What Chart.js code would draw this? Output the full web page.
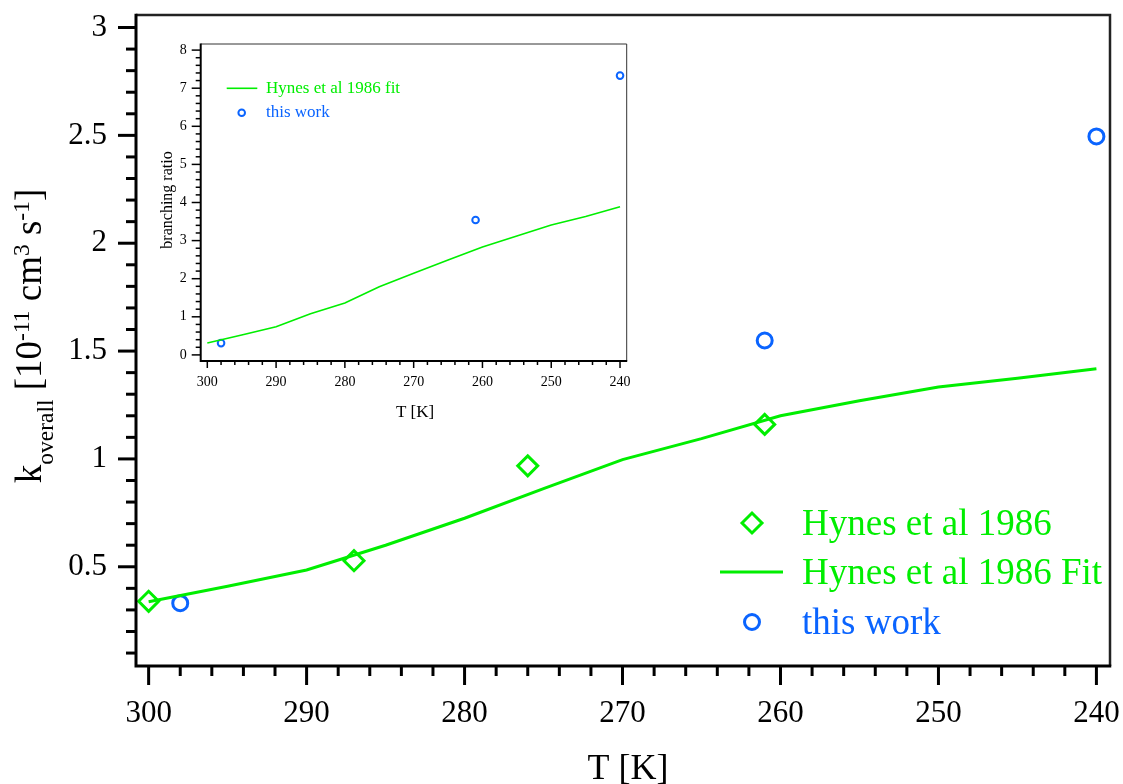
<!DOCTYPE html>
<html><head><meta charset="utf-8">
<script src="https://cdn.jsdelivr.net/npm/chart.js@4.4.1/dist/chart.umd.min.js"></script>
<style>
html,body{margin:0;padding:0;background:#fff;}
#wrap{position:relative;width:1123px;height:784px;overflow:hidden;}
#main{position:absolute;left:0;top:0;}
#inset{position:absolute;left:150px;top:30px;background:#fff;}
</style></head><body>
<div id="wrap"><canvas id="main" width="1123" height="784"></canvas><canvas id="inset" width="490" height="400"></canvas></div>
<script>
// ---- data ----
const hynesT = [300, 287, 276, 261];
const hynesK = [0.34, 0.528, 0.968, 1.16];
const fitT = [300, 295, 290, 285, 280, 275, 270, 265, 260, 255, 250, 245, 240];
const fitK = [0.338, 0.41, 0.485, 0.60, 0.725, 0.862, 0.997, 1.094, 1.20, 1.27, 1.333, 1.374, 1.418];
const workT = [298, 261, 240];
const workK = [0.331, 1.549, 2.495];
const insetFitT = [300, 295, 290, 285, 280, 275, 270, 265, 260, 255, 250, 245, 240];
const insetFitR = [0.31, 0.52, 0.74, 1.08, 1.36, 1.79, 2.14, 2.49, 2.83, 3.12, 3.41, 3.63, 3.89];
const insetWorkT = [298, 261, 240];
const insetWorkR = [0.31, 3.54, 7.33];
// tick labels
const mainXTicks = [300, 290, 280, 270, 260, 250, 240];
const mainYTicks = [0.5, 1, 1.5, 2, 2.5, 3];
const insetXTicks = [300, 290, 280, 270, 260, 250, 240];
const insetYTicks = [0, 1, 2, 3, 4, 5, 6, 7, 8];
const mainLegend = ['Hynes et al 1986', 'Hynes et al 1986 Fit', 'this work'];
const insetLegend = ['Hynes et al 1986 fit', 'this work'];

const GREEN = '#00ee00', BLUE = '#0a64ff';
const FONT = '"Liberation Serif", "Times New Roman", serif';
Chart.defaults.font.family = FONT;
Chart.defaults.color = '#000';

const r3 = v => Math.round(v * 1000) / 1000;
function steps(a, b, s) { const out = []; const n = Math.round((b - a) / s); for (let i = 0; i <= n; i++) out.push(r3(a + i * s)); return out; }
const pts = (xs, ys) => xs.map((x, i) => ({x, y: ys[i]}));

const mainXAll = steps(240, 300, 2);
const mainYAll = steps(0.1, 3.0, 0.1);
const insetXAll = steps(240, 300, 2);
const insetYAll = steps(0, 8, 0.2);

function axisScale(o) {
  return {
    type: 'linear', reverse: !!o.reverse, min: o.min, max: o.max,
    afterBuildTicks: s => { s.ticks = o.all.map(v => ({value: v})); },
    afterFit: s => {
      if (o.width !== undefined) s.width = o.width;
      if (o.height !== undefined) s.height = o.height;
      s.paddingTop = 0; s.paddingBottom = 0; s.paddingLeft = 0; s.paddingRight = 0;
    },
    grid: {display: true, drawOnChartArea: false, drawTicks: true, tickLength: o.tl, color: 'rgba(0,0,0,0)'},
    border: {display: false},
    ticks: {autoSkip: false, maxRotation: 0, minRotation: 0, padding: o.pad, color: '#000',
      font: {size: o.fs, family: FONT},
      callback: v => o.majors.includes(r3(v)) ? String(r3(v)) : ''}
  };
}

function framePlugin(c) {
  return {
    id: 'frame',
    afterDraw(chart) {
      const ctx = chart.ctx, a = chart.chartArea, xs = chart.scales.x, ys = chart.scales.y;
      ctx.save();
      ctx.lineCap = 'butt';
      ctx.strokeStyle = c.frameColor; ctx.lineWidth = c.frameW;
      ctx.beginPath(); ctx.moveTo(a.left, a.top); ctx.lineTo(a.right, a.top); ctx.lineTo(a.right, a.bottom); ctx.stroke();
      ctx.strokeStyle = '#000'; ctx.lineWidth = c.axisW;
      ctx.beginPath(); ctx.moveTo(a.left, a.top - c.frameW / 2); ctx.lineTo(a.left, a.bottom); ctx.lineTo(a.right + c.frameW / 2, a.bottom); ctx.stroke();
      ctx.lineWidth = c.tickW;
      xs.ticks.forEach(t => {
        const p = xs.getPixelForValue(t.value);
        const len = c.xMaj.includes(r3(t.value)) ? c.majLen : c.minLen;
        ctx.beginPath(); ctx.moveTo(p, a.bottom); ctx.lineTo(p, a.bottom + len); ctx.stroke();
      });
      ys.ticks.forEach(t => {
        const p = ys.getPixelForValue(t.value);
        const len = c.yMaj.includes(r3(t.value)) ? c.majLenY : c.minLenY;
        ctx.beginPath(); ctx.moveTo(a.left, p); ctx.lineTo(a.left - len, p); ctx.stroke();
      });
      ctx.restore();
      if (c.extra) c.extra(chart);
    }
  };
}

function diamond(ctx, x, y, r) { ctx.beginPath(); ctx.moveTo(x - r, y); ctx.lineTo(x, y - r); ctx.lineTo(x + r, y); ctx.lineTo(x, y + r); ctx.closePath(); ctx.stroke(); }
function circle(ctx, x, y, r) { ctx.beginPath(); ctx.arc(x, y, r, 0, Math.PI * 2); ctx.stroke(); }

function drawRich(ctx, parts, cx, cy, rot) {
  ctx.save();
  ctx.translate(cx, cy);
  if (rot) ctx.rotate(rot);
  let total = 0;
  parts.forEach(p => { ctx.font = p.size + 'px ' + FONT; p.w = ctx.measureText(p.t).width; total += p.w; });
  let x = -total / 2;
  ctx.textBaseline = 'alphabetic'; ctx.textAlign = 'left'; ctx.fillStyle = '#000';
  parts.forEach(p => { ctx.font = p.size + 'px ' + FONT; ctx.fillText(p.t, x, p.dy || 0); x += p.w; });
  ctx.restore();
}

// ---- main chart ----
new Chart(document.getElementById('main'), {
  type: 'scatter',
  data: {datasets: [
    {label: mainLegend[1], data: pts(fitT, fitK), showLine: true, borderColor: GREEN, backgroundColor: GREEN, borderWidth: 3, pointRadius: 0, tension: 0},
    {label: mainLegend[0], data: pts(hynesT, hynesK), pointStyle: 'rectRot', pointRadius: 10, borderColor: GREEN, backgroundColor: 'rgba(0,0,0,0)', borderWidth: 3},
    {label: mainLegend[2], data: pts(workT, workK), pointStyle: 'circle', pointRadius: 7.5, borderColor: BLUE, backgroundColor: 'rgba(0,0,0,0)', borderWidth: 3}
  ]},
  options: {
    responsive: false, animation: false, devicePixelRatio: 1, events: [],
    layout: {padding: {top: 15, right: 11, left: 0, bottom: 0}},
    clip: false,
    plugins: {legend: {display: false}, tooltip: {enabled: false}},
    scales: {
      x: axisScale({reverse: true, min: 239.14, max: 300.8, all: mainXAll, majors: mainXTicks, height: 118, tl: 19, pad: 10, fs: 31}),
      y: axisScale({min: 0.04, max: 3.058, all: mainYAll, majors: mainYTicks, width: 136, tl: 18, pad: 11, fs: 31})
    }
  },
  plugins: [framePlugin({frameColor: '#222', frameW: 2.5, axisW: 3, tickW: 3, xMaj: mainXTicks, yMaj: mainYTicks, majLen: 19, minLen: 10, majLenY: 18, minLenY: 10,
    extra(chart) {
      const ctx = chart.ctx;
      ctx.save();
      // x title
      ctx.font = '36px ' + FONT; ctx.fillStyle = '#000'; ctx.textAlign = 'center'; ctx.textBaseline = 'alphabetic';
      ctx.fillText('T [K]', 628, 779);
      // legend
      ctx.lineWidth = 3; ctx.strokeStyle = GREEN;
      diamond(ctx, 752, 523, 10);
      ctx.beginPath(); ctx.moveTo(720, 572); ctx.lineTo(783, 572); ctx.stroke();
      ctx.strokeStyle = BLUE; circle(ctx, 752, 622, 7.5);
      ctx.font = '37px ' + FONT; ctx.textAlign = 'left'; ctx.textBaseline = 'alphabetic';
      ctx.fillStyle = GREEN;
      ctx.fillText(mainLegend[0], 802, 535);
      ctx.fillText(mainLegend[1], 802, 584);
      ctx.fillStyle = BLUE;
      ctx.fillText(mainLegend[2], 802, 634);
      ctx.restore();
      // y title with sub/superscripts
      drawRich(ctx, [
        {t: 'k', size: 37}, {t: 'overall', size: 23.5, dy: 12}, {t: ' [10', size: 37}, {t: '-11', size: 23.5, dy: -12},
        {t: ' cm', size: 37}, {t: '3', size: 23.5, dy: -12}, {t: ' s', size: 37}, {t: '-1', size: 23.5, dy: -12}, {t: ']', size: 37}
      ], 41, 336, -Math.PI / 2);
    }
  })]
});

// ---- inset chart ----
new Chart(document.getElementById('inset'), {
  type: 'scatter',
  data: {datasets: [
    {label: insetLegend[0], data: pts(insetFitT, insetFitR), showLine: true, borderColor: GREEN, backgroundColor: GREEN, borderWidth: 1.6, pointRadius: 0, tension: 0},
    {label: insetLegend[1], data: pts(insetWorkT, insetWorkR), pointStyle: 'circle', pointRadius: 3.3, borderColor: BLUE, backgroundColor: 'rgba(0,0,0,0)', borderWidth: 2}
  ]},
  options: {
    responsive: false, animation: false, devicePixelRatio: 1, events: [],
    layout: {padding: {top: 14, right: 13.3, left: 0, bottom: 0}},
    clip: false,
    plugins: {legend: {display: false}, tooltip: {enabled: false}},
    scales: {
      x: axisScale({reverse: true, min: 239.03, max: 300.96, all: insetXAll, majors: insetXTicks, height: 69, tl: 7, pad: 6, fs: 14}),
      y: axisScale({min: -0.16, max: 8.16, all: insetYAll, majors: insetYTicks, width: 50.7, tl: 9, pad: 5, fs: 14})
    }
  },
  plugins: [framePlugin({frameColor: '#333', frameW: 1, axisW: 2, tickW: 1.5, xMaj: insetXTicks, yMaj: insetYTicks, majLen: 7, minLen: 4, majLenY: 9, minLenY: 5,
    extra(chart) {
      const ctx = chart.ctx;
      ctx.save();
      ctx.font = '17px ' + FONT; ctx.fillStyle = '#000'; ctx.textAlign = 'center'; ctx.textBaseline = 'alphabetic';
      ctx.fillText('T [K]', 265, 387);
      ctx.save();
      ctx.translate(22, 170); ctx.rotate(-Math.PI / 2);
      ctx.font = '16px ' + FONT; ctx.fillText('branching ratio', 0, 0);
      ctx.restore();
      ctx.strokeStyle = GREEN; ctx.lineWidth = 1.6;
      ctx.beginPath(); ctx.moveTo(76.7, 58.3); ctx.lineTo(107.3, 58.3); ctx.stroke();
      ctx.strokeStyle = BLUE; ctx.lineWidth = 2; circle(ctx, 91.7, 82.7, 3.3);
      ctx.font = '17px ' + FONT; ctx.textAlign = 'left'; ctx.textBaseline = 'middle';
      ctx.fillStyle = GREEN; ctx.fillText(insetLegend[0], 116, 58.5);
      ctx.fillStyle = BLUE; ctx.fillText(insetLegend[1], 116, 82.5);
      ctx.restore();
    }
  })]
});
</script>
</body></html>
